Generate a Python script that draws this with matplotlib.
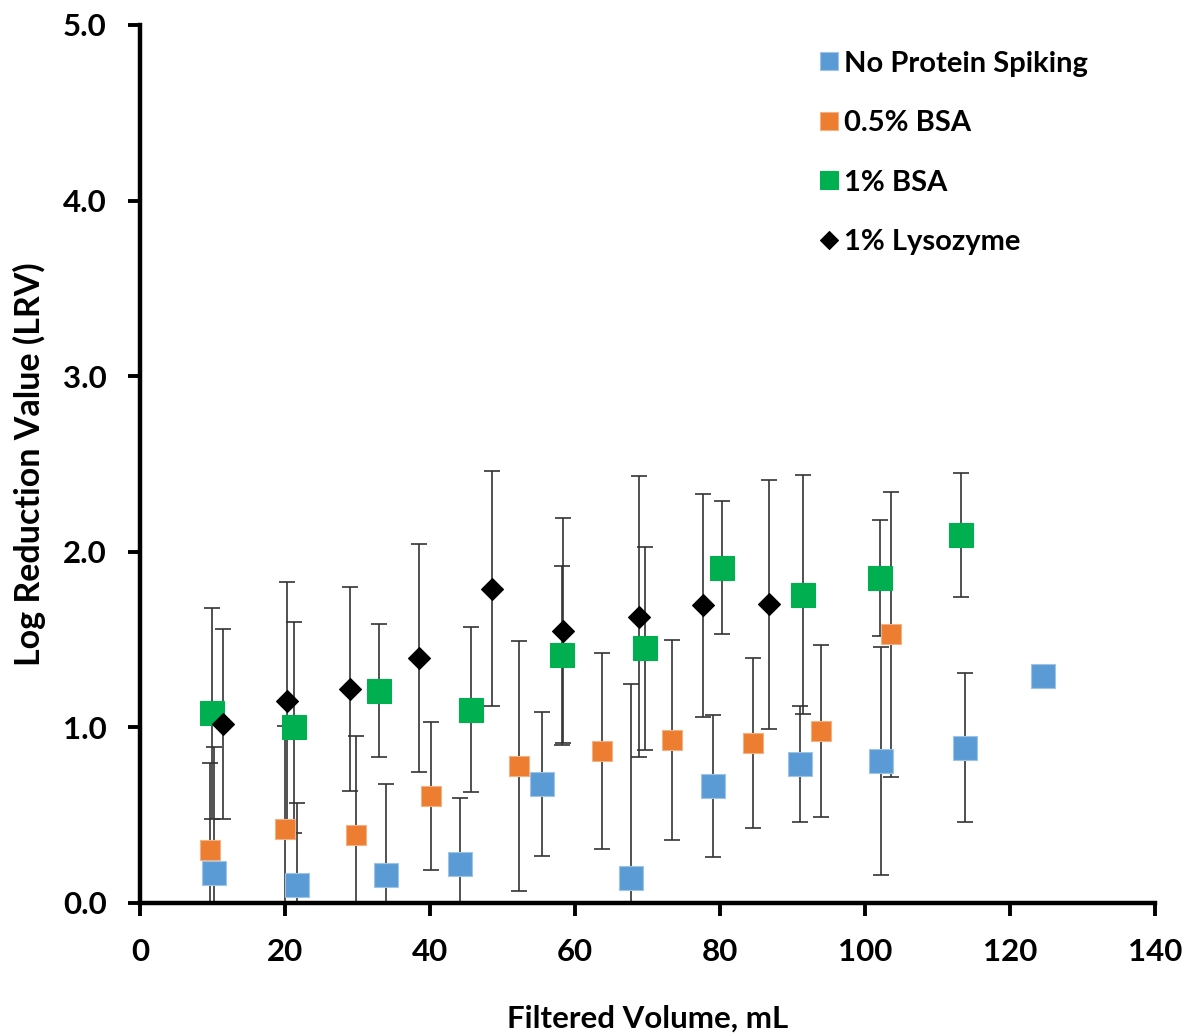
import matplotlib
matplotlib.use("Agg")
import matplotlib.pyplot as plt
from matplotlib.lines import Line2D

# ---- data ----
blue_x = [10.2, 21.6, 33.9, 44.2, 55.4, 67.7, 79.1, 91.1, 102.2, 113.8, 124.6]
blue_y = [0.17, 0.10, 0.16, 0.22, 0.68, 0.145, 0.665, 0.79, 0.81, 0.885, 1.29]
blue_err = [0.72, 0.47, 0.52, 0.38, 0.41, 1.10, 0.405, 0.33, 0.65, 0.425, 0.0]

orange_x = [9.6, 20.0, 29.8, 40.1, 52.3, 63.7, 73.4, 84.5, 93.9, 103.6]
orange_y = [0.30, 0.42, 0.39, 0.61, 0.78, 0.865, 0.93, 0.91, 0.98, 1.53]
orange_err = [0.50, 0.59, 0.56, 0.42, 0.71, 0.56, 0.57, 0.485, 0.49, 0.81]

green_x = [9.9, 21.2, 33.0, 45.7, 58.2, 69.7, 80.3, 91.4, 102.0, 113.2]
green_y = [1.08, 1.00, 1.21, 1.10, 1.41, 1.45, 1.91, 1.755, 1.85, 2.095]
green_err = [0.60, 0.60, 0.38, 0.47, 0.51, 0.58, 0.38, 0.68, 0.33, 0.355]

lyso_x = [11.4, 20.3, 29.0, 38.5, 48.6, 58.3, 68.8, 77.7, 86.8]
lyso_y = [1.02, 1.15, 1.22, 1.395, 1.79, 1.55, 1.63, 1.695, 1.70]
lyso_err = [0.54, 0.68, 0.58, 0.65, 0.67, 0.64, 0.80, 0.635, 0.71]

labels = ["No Protein Spiking", "0.5% BSA", "1% BSA", "1% Lysozyme"]
x_ticks = [0, 20, 40, 60, 80, 100, 120, 140]
y_ticks = [0.0, 1.0, 2.0, 3.0, 4.0, 5.0]

FONT = "Lato"
plt.rcParams['font.family'] = [FONT, 'DejaVu Sans']
plt.rcParams['font.weight'] = 'bold'

fig = plt.figure(figsize=(11.88, 10.36), dpi=100)
ax = fig.add_axes([140/1188, 133/1036, 1015/1188, 878/1036])

series = [
    (blue_x, blue_y, blue_err, 's', '#5B9BD5', '#9DC3E6', 17),
    (orange_x, orange_y, orange_err, 's', '#ED7D31', '#F4B183', 14.5),
    (green_x, green_y, green_err, 's', '#00B050', '#00B050', 17),
    (lyso_x, lyso_y, lyso_err, 'D', '#000000', '#000000', 11.5),
]

for xs, ys, es, m, fc, ec, ms in series:
    ax.errorbar(xs, ys, yerr=es, fmt='none', ecolor='#333333', elinewidth=1.2,
                capsize=6, capthick=1.2, zorder=2)

handles = []
for (xs, ys, es, m, fc, ec, ms), lab in zip(series, labels):
    ax.plot(xs, ys, linestyle='none', marker=m, markersize=ms,
            markerfacecolor=fc, markeredgecolor=ec, markeredgewidth=0.8, zorder=3)
    hs = 13.5 if m == 's' else 9.5
    handles.append(Line2D([], [], linestyle='none', marker=m, markersize=hs,
                          markerfacecolor=fc, markeredgecolor=ec, markeredgewidth=0.8, label=lab))

ax.set_xlim(0, 140)
ax.set_ylim(0, 5.0)
ax.set_xticks(x_ticks)
ax.set_xticklabels([str(v) for v in x_ticks])
ax.set_yticks(y_ticks)
ax.set_yticklabels([f"{v:.1f}" for v in y_ticks])

for s in ['top', 'right']:
    ax.spines[s].set_visible(False)
for s in ['left', 'bottom']:
    ax.spines[s].set_linewidth(3.2)
    ax.spines[s].set_color('black')

ax.tick_params(axis='both', direction='out', length=9, width=2.8, labelsize=22.5)
ax.tick_params(axis='y', pad=15)
ax.tick_params(axis='x', pad=16)
for t in ax.get_xticklabels() + ax.get_yticklabels():
    t.set_fontweight('bold')

ax.set_xlabel("Filtered Volume, mL", fontsize=22.5, fontweight='bold', labelpad=28)
ax.set_ylabel("Log Reduction Value (LRV)", fontsize=24.5, fontweight='bold', labelpad=12)

leg = ax.legend(handles=handles, loc='upper left', bbox_to_anchor=(800/1188, 1-36/1036),
                bbox_transform=fig.transFigure, frameon=False, fontsize=21,
                labelspacing=1.15, handletextpad=0.0, handlelength=1.0, borderpad=0)
for t in leg.get_texts():
    t.set_fontweight('bold')

fig.savefig("out.png", dpi=100)
